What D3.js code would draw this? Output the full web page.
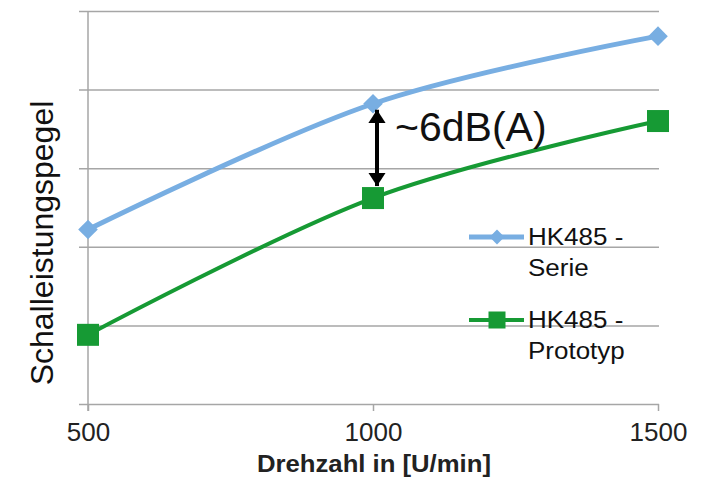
<!DOCTYPE html>
<html>
<head>
<meta charset="utf-8">
<script src="https://cdn.jsdelivr.net/npm/d3@7"></script>
<style>
  html, body { margin: 0; padding: 0; background: #fff; }
  svg { display: block; font-family: "Liberation Sans", Arial, sans-serif; }
</style>
</head>
<body>
<svg id="chart" width="711" height="480"></svg>
<script>
// Drehzahl (U/min) and Schallleistungspegel in dB(A)
const drehzahl = [500, 1000, 1500];
const serie = [81.1, 89.1, 93.4];
const prototyp = [74.4, 83.1, 88.0];
const xTicks = [500, 1000, 1500];
const yGrid = [70, 75, 80, 85, 90, 95];
const seriesNames = ["HK485 -\nSerie", "HK485 -\nPrototyp"];
const diffLabel = "~6dB(A)";

const svg = d3.select("#chart");
const plotLeft = 88, plotRight = 658, plotTop = 11, plotBottom = 404;
const x = d3.scaleLinear().domain([500, 1500]).range([plotLeft, plotRight]);
const y = d3.scaleLinear().domain([70, 95]).range([plotBottom, plotTop]);

const gridColor = "#a6a6a6";
const blue = "#78aee2";
const green = "#169a34";

// horizontal gridlines with small left ticks
svg.append("g")
  .attr("transform", `translate(${plotLeft},0)`)
  .call(d3.axisLeft(y).tickValues(yGrid).tickSize(-(plotRight - plotLeft + 1)).tickSizeOuter(0).tickFormat(""))
  .call(g => g.select(".domain").remove())
  .call(g => g.selectAll(".tick line").attr("stroke", gridColor).attr("stroke-width", 1.5).attr("x1", -9));

// vertical axis line
svg.append("line")
  .attr("x1", plotLeft).attr("x2", plotLeft)
  .attr("y1", y(95)).attr("y2", plotBottom + 7)
  .attr("stroke", gridColor).attr("stroke-width", 1.5);

// x axis
const xAxis = svg.append("g")
  .attr("transform", `translate(0,${plotBottom})`)
  .call(d3.axisBottom(x).tickValues(xTicks).tickSize(7).tickSizeOuter(0).tickPadding(12).tickFormat(d3.format("d")));
xAxis.select(".domain").remove();
xAxis.selectAll(".tick line").attr("stroke", gridColor).attr("stroke-width", 1.5);
xAxis.selectAll(".tick text")
  .attr("fill", "#222")
  .attr("font-size", 26)
  .attr("font-family", "Liberation Sans, Arial, sans-serif");

// axis titles
svg.append("text")
  .attr("transform", `translate(${(plotLeft + plotRight) / 2 + 1},472) scale(1.07,1)`)
  .attr("text-anchor", "middle")
  .attr("font-size", 24).attr("font-weight", "bold").attr("fill", "#222")
  .text("Drehzahl in [U/min]");

svg.append("text")
  .attr("transform", `translate(53,${(98 + 388) / 2}) rotate(-90)`)
  .attr("text-anchor", "middle")
  .attr("font-size", 32).attr("fill", "#111")
  .text("Schalleistungspegel");

// smoothed lines
const line = d3.line()
  .x((d, i) => x(drehzahl[i]))
  .y(d => y(d))
  .curve(d3.curveCatmullRom.alpha(0));

svg.append("path").datum(serie)
  .attr("d", line).attr("fill", "none")
  .attr("stroke", blue).attr("stroke-width", 5);
svg.append("path").datum(prototyp)
  .attr("d", line).attr("fill", "none")
  .attr("stroke", green).attr("stroke-width", 4);

// markers
const diamond = d3.symbol().type(d3.symbolDiamond2).size(245);
svg.append("g").selectAll("path")
  .data(serie).join("path")
  .attr("transform", (d, i) => `translate(${x(drehzahl[i])},${y(d)})`)
  .attr("d", diamond)
  .attr("fill", blue);

svg.append("g").selectAll("rect")
  .data(prototyp).join("rect")
  .attr("x", (d, i) => x(drehzahl[i]) - 11)
  .attr("y", d => y(d) - 11)
  .attr("width", 22).attr("height", 22)
  .attr("fill", green);

// double-headed arrow between the two series at 1000 U/min
const defs = svg.append("defs");
defs.append("marker")
  .attr("id", "head")
  .attr("viewBox", "0 0 10 10")
  .attr("preserveAspectRatio", "none")
  .attr("refX", 10).attr("refY", 5)
  .attr("markerWidth", 3.3).attr("markerHeight", 4.3)
  .attr("markerUnits", "strokeWidth")
  .attr("orient", "auto-start-reverse")
  .append("path").attr("d", "M0,0 L10,5 L0,10 Z").attr("fill", "#000");

const ax = x(1000) + 4;
svg.append("line")
  .attr("x1", ax).attr("x2", ax)
  .attr("y1", y(serie[1]) + 6).attr("y2", y(prototyp[1]) - 12)
  .attr("stroke", "#000").attr("stroke-width", 4)
  .attr("marker-start", "url(#head)").attr("marker-end", "url(#head)");

svg.append("text")
  .attr("x", 395).attr("y", 141)
  .attr("font-size", 41).attr("fill", "#111")
  .text(diffLabel);

// legend
const legendItems = [
  { name: seriesNames[0], color: blue, width: 5, shape: "diamond", y: 237 },
  { name: seriesNames[1], color: green, width: 4, shape: "square", y: 320 }
];
const lg = svg.append("g");
legendItems.forEach(it => {
  lg.append("line")
    .attr("x1", 469).attr("x2", 524)
    .attr("y1", it.y).attr("y2", it.y)
    .attr("stroke", it.color).attr("stroke-width", it.width);
  if (it.shape === "diamond") {
    lg.append("path")
      .attr("transform", `translate(497,${it.y})`)
      .attr("d", d3.symbol().type(d3.symbolDiamond2).size(140))
      .attr("fill", it.color);
  } else {
    lg.append("rect")
      .attr("x", 497 - 8.5).attr("y", it.y - 8.5)
      .attr("width", 17).attr("height", 17)
      .attr("fill", it.color);
  }
  const t = lg.append("text")
    .attr("transform", `translate(528,${it.y + 8}) scale(1.13,1)`)
    .attr("font-size", 23).attr("fill", "#111");
  it.name.split("\n").forEach((s, i) => {
    t.append("tspan").attr("x", 0).attr("dy", i === 0 ? 0 : 31).text(s);
  });
});
</script>
</body>
</html>
